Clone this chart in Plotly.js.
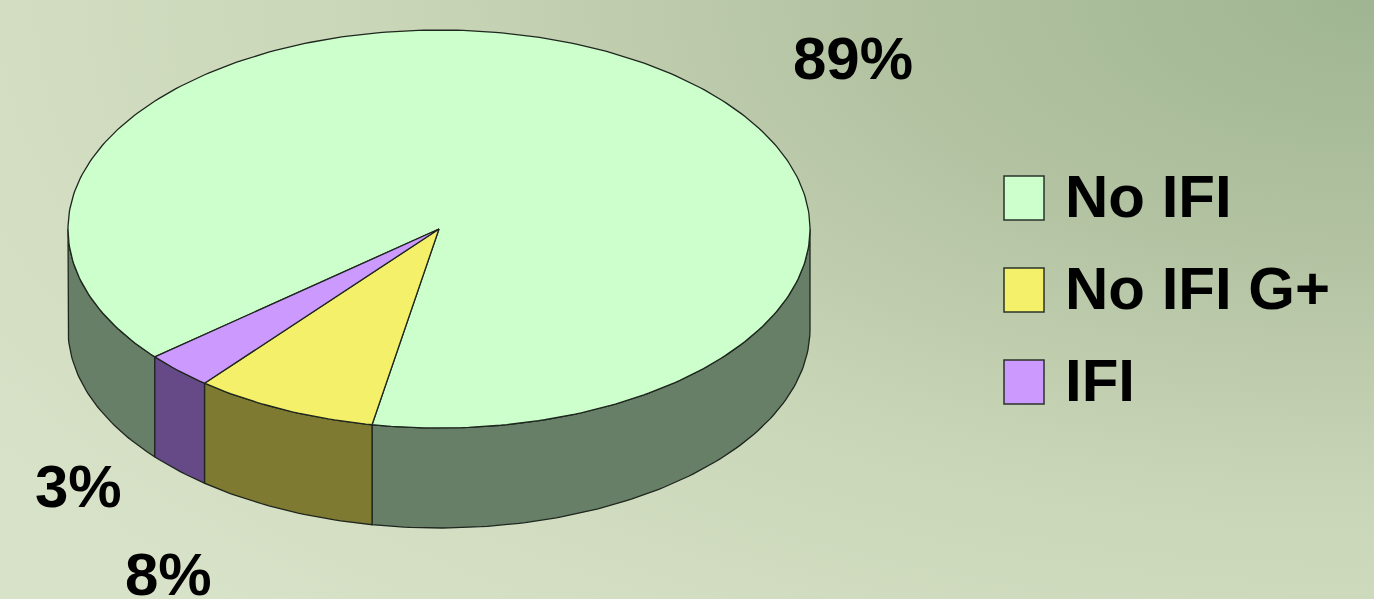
<!DOCTYPE html>
<html>
<head>
<meta charset="utf-8">
<script src="https://cdn.plot.ly/plotly-3.0.1.min.js"></script>
<style>
  html, body { margin: 0; padding: 0; width: 1374px; height: 599px; overflow: hidden; }
  body {
    background: radial-gradient(ellipse 120% 140% at 100% 0%, #9fb591 0%, #b3c3a2 30%, #cbd7b9 62%, #d8e2c8 100%);
  }
  #chart { width: 1374px; height: 599px; }
</style>
</head>
<body>
<div id="chart"></div>
<script>
// ---- data ----
const categories = ['No IFI', 'No IFI G+', 'IFI'];
const values = [89, 8, 3];
const topColors = ['#ccffcc', '#f4f06a', '#cc99ff'];
const sideColors = ['#667f66', '#7f7a32', '#664a88'];

// ---- geometry (pixel units; axes are mapped 1:1 to pixels) ----
const W = 1374, H = 599;
const CX = 439, CY = 229, RX = 371, RY = 199, DEPTH = 100;
const START = 230;            // degrees clockwise from 12 o'clock
const LABEL_POS = [[853, 58], [168, 574], [78, 486]];
const LEGEND = { x: 1004, y0: 198, dy: 92, sw: 40, sh: 44, tx: 1063 };
const FONT = 'Liberation Sans, Arial, sans-serif';

function pt(theta, dy) {
  const r = theta * Math.PI / 180;
  return [CX + RX * Math.sin(r), CY - RY * Math.cos(r) + (dy || 0)];
}
function arc(a, b, dy) {
  const pts = [];
  const n = Math.max(2, Math.ceil(Math.abs(b - a)));
  for (let i = 0; i <= n; i++) pts.push(pt(a + (b - a) * i / n, dy));
  return pts;
}

const total = values.reduce((s, v) => s + v, 0);
const slices = [];
let acc = START;
values.forEach((v, i) => {
  const span = v / total * 360;
  slices.push({ a: acc, b: acc + span, i });
  acc += span;
});

const traces = [];
function poly(pts, fill) {
  traces.push({
    type: 'scatter', mode: 'lines',
    x: pts.map(p => p[0]).concat([pts[0][0]]),
    y: pts.map(p => p[1]).concat([pts[0][1]]),
    fill: 'toself', fillcolor: fill,
    line: { color: '#1e261e', width: 1.3 },
    hoverinfo: 'skip', showlegend: false
  });
}

// side walls (front half only: 90..270 deg)
slices.forEach(s => {
  for (let k = -1; k <= 2; k++) {
    const lo = Math.max(s.a, 90 + 360 * k), hi = Math.min(s.b, 270 + 360 * k);
    if (hi > lo) {
      const top = arc(lo, hi, 0);
      const bot = arc(hi, lo, DEPTH);
      poly(top.concat(bot), sideColors[s.i]);
    }
  }
});
// top faces
slices.forEach(s => {
  poly([[CX, CY]].concat(arc(s.a, s.b, 0)), topColors[s.i]);
});

// percentage labels
const annotations = values.map((v, i) => ({
  x: LABEL_POS[i][0], y: LABEL_POS[i][1], xref: 'x', yref: 'y',
  text: Math.round(v / total * 100) + '%', showarrow: false,
  xanchor: 'center', yanchor: 'middle',
  font: { family: FONT, size: 60, color: '#000', weight: 'bold' }
}));
// legend
const shapes = [];
categories.forEach((c, i) => {
  const yc = LEGEND.y0 + i * LEGEND.dy;
  shapes.push({
    type: 'rect', xref: 'x', yref: 'y',
    x0: LEGEND.x, x1: LEGEND.x + LEGEND.sw,
    y0: yc - LEGEND.sh / 2, y1: yc + LEGEND.sh / 2,
    fillcolor: topColors[i], line: { color: '#2a332a', width: 1.5 }
  });
  annotations.push({
    x: LEGEND.tx, y: yc - 2, xref: 'x', yref: 'y', text: c, showarrow: false,
    xanchor: 'left', yanchor: 'middle',
    font: { family: FONT, size: 60, color: '#000', weight: 'bold' }
  });
});

const layout = {
  width: W, height: H, autosize: false,
  margin: { l: 0, r: 0, t: 0, b: 0, pad: 0 },
  paper_bgcolor: 'rgba(0,0,0,0)', plot_bgcolor: 'rgba(0,0,0,0)',
  xaxis: { range: [0, W], visible: false, fixedrange: true },
  yaxis: { range: [H, 0], visible: false, fixedrange: true },
  showlegend: false, annotations, shapes
};
Plotly.newPlot('chart', traces, layout, { displayModeBar: false, staticPlot: true });
</script>
</body>
</html>
